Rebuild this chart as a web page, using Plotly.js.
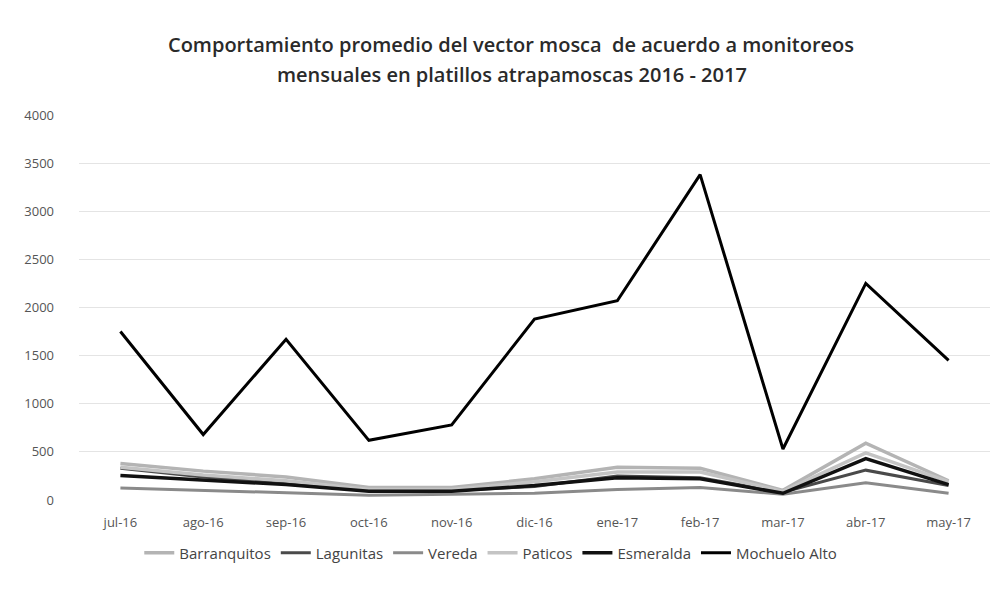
<!DOCTYPE html>
<html>
<head>
<meta charset="utf-8">
<script src="https://cdn.plot.ly/plotly-3.0.1.min.js"></script>
<style>html,body{margin:0;padding:0;background:#fff;}#chart{width:1002px;height:589px;}</style>
</head>
<body>
<div id="chart"></div>
<script>
const months = ["jul-16","ago-16","sep-16","oct-16","nov-16","dic-16","ene-17","feb-17","mar-17","abr-17","may-17"];
const barranquitos = [380, 300, 240, 130, 130, 220, 340, 330, 100, 590, 200];
const lagunitas    = [330, 240, 170, 100, 100, 140, 250, 230, 80, 310, 150];
const vereda       = [125, 100, 75, 50, 60, 70, 110, 130, 60, 180, 70];
const paticos      = [340, 260, 200, 110, 110, 190, 290, 290, 90, 490, 190];
const esmeralda    = [255, 210, 160, 90, 90, 150, 230, 220, 70, 430, 160];
const mochueloAlto = [1750, 680, 1670, 620, 780, 1880, 2070, 3380, 530, 2250, 1450];
const yTicks = [0, 500, 1000, 1500, 2000, 2500, 3000, 3500, 4000];
const titleLine1 = "Comportamiento promedio del vector mosca  de acuerdo a monitoreos";
const titleLine2 = "mensuales en platillos atrapamoscas 2016 - 2017";

const series = [
  {name: "Barranquitos", y: barranquitos, color: "#b4b4b4", width: 3.5},
  {name: "Lagunitas", y: lagunitas, color: "#4a4a4a", width: 3},
  {name: "Vereda", y: vereda, color: "#8a8a8a", width: 3},
  {name: "Paticos", y: paticos, color: "#c4c4c4", width: 3.5},
  {name: "Esmeralda", y: esmeralda, color: "#111111", width: 3.5},
  {name: "Mochuelo Alto", y: mochueloAlto, color: "#000000", width: 3}
];

const traces = series.map(s => ({
  type: "scatter", mode: "lines", name: s.name, x: months, y: s.y,
  line: {color: s.color, width: s.width}
}));

const font = "'Open Sans', 'DejaVu Sans', Arial, sans-serif";
const titleFont = {family: "'Open Sans', 'DejaVu Sans', sans-serif", size: 20, color: "#2a2a2a", weight: 600};
const layout = {
  width: 1002, height: 589,
  margin: {l: 79, r: 12, t: 115, b: 89},
  paper_bgcolor: "#ffffff", plot_bgcolor: "#ffffff",
  font: {family: font, color: "#555555", size: 13},
  title: {
    text: titleLine1,
    x: 0.51, xanchor: "center", y: 1 - 45/589, yanchor: "middle",
    font: titleFont
  },
  annotations: [{
    text: titleLine2, xref: "paper", yref: "paper", showarrow: false,
    x: 0.475, xanchor: "center", y: 1 + (115 - 75) / 385, yanchor: "middle",
    font: titleFont
  }],
  xaxis: {
    type: "category", range: [-0.5, 10.5], showgrid: false, zeroline: false,
    showline: false, ticks: "", tickfont: {size: 13, color: "#555555"}, ticklabelstandoff: 13
  },
  yaxis: {
    range: [0, 4000], tickvals: yTicks, ticktext: yTicks.map(String),
    showgrid: true, gridcolor: "#e4e4e4", gridwidth: 1, zeroline: false,
    showline: false, ticks: "", tickfont: {size: 13, color: "#555555"}, ticklabelstandoff: 24
  },
  showlegend: true,
  legend: {
    orientation: "h", x: 0.452, xanchor: "center", y: -0.095, yanchor: "top",
    font: {size: 15, color: "#444444"}, itemwidth: 30, traceorder: "normal"
  }
};

Plotly.newPlot("chart", traces, layout, {displayModeBar: false, staticPlot: true});
</script>
</body>
</html>
